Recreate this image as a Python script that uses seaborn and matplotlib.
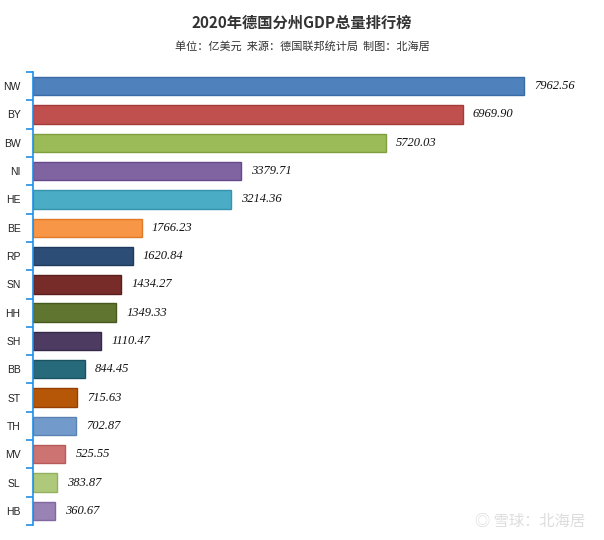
import matplotlib
matplotlib.use("Agg")
import matplotlib.pyplot as plt
import seaborn as sns
import numpy as np
import pandas as pd

states = ["NW", "BY", "BW", "NI", "HE", "BE", "RP", "SN", "HH", "SH", "BB", "ST", "TH", "MV", "SL", "HB"]
gdp = [7962.56, 6969.90, 5720.03, 3379.71, 3214.36, 1766.23, 1620.84, 1434.27,
       1349.33, 1110.47, 844.45, 715.63, 702.87, 525.55, 383.87, 360.67]
colors = ["#4F81BD", "#C0504D", "#9BBB59", "#8064A2", "#4BACC6", "#F79646", "#2C4D75", "#772C2A",
          "#5F7530", "#4D3B62", "#276A7C", "#B65708", "#729ACA", "#CD7371", "#AFC97A", "#9983B5"]
edges = ["#3A6BA5", "#A33B38", "#80A040", "#65498A", "#3593AD", "#E07A28", "#1E3A5C", "#5C1E1C",
         "#465A20", "#36284A", "#1A5262", "#963F00", "#5A82B5", "#B85A58", "#93B060", "#7F69A0"]

title = "2020年德国分州GDP总量排行榜"
subtitle = "单位：亿美元  来源：德国联邦统计局  制图：北海居"

sns.set_theme(style="white")
plt.rcParams['font.family'] = ['Noto Sans CJK SC', 'DejaVu Sans']

df = pd.DataFrame({"state": states, "gdp": gdp})

fig = plt.figure(figsize=(6.04, 5.40), dpi=100)
ax = fig.add_axes([33/604, 1 - 525/540, (590 - 33)/604, (525 - 72)/540])

sns.barplot(data=df, x="gdp", y="state", hue="state", palette=colors, legend=False,
            width=0.65, ax=ax, saturation=1)
for patch, ec in zip(ax.patches, edges):
    patch.set_edgecolor(ec)
    patch.set_linewidth(1.0)

xmax = 9030
ax.set_xlim(0, xmax)
ax.set_ylim(len(states) - 0.5, -0.5)

for i, v in enumerate(gdp):
    ax.text(v + xmax * 0.018, i, f"{v:.2f}", va="center", ha="left",
            fontsize=9, fontstyle="italic", family="Liberation Serif", color="#111111")

for s in ["top", "right", "bottom"]:
    ax.spines[s].set_visible(False)
ax.spines["left"].set_color("#1E90E8")
ax.spines["left"].set_linewidth(1.2)

ax.set_xticks([])
ax.set_yticks(range(len(states)))
ax.set_yticklabels(states, fontsize=7.5, family=["Liberation Sans", "DejaVu Sans"], color="#222222")
ax.set_yticks(np.arange(-0.5, len(states), 1), minor=True)
ax.tick_params(axis="y", which="major", length=0, pad=9)
ax.tick_params(axis="y", which="minor", length=5, width=1.2, color="#1E90E8", left=True)
ax.set_xlabel("")
ax.set_ylabel("")

fig.text(302/604, 1 - 23/540, title, ha="center", va="center", fontsize=11, fontweight="bold", color="#333333")
fig.text(302/604, 1 - 46/540, subtitle, ha="center", va="center", fontsize=8, color="#333333")
fig.text(585/604, 1 - 521/540, "◎ 雪球：北海居", ha="right", va="center", fontsize=11,
         color="#DDDDDD", family=["Noto Sans CJK SC", "DejaVu Sans"])

fig.savefig("out.png", dpi=100)
